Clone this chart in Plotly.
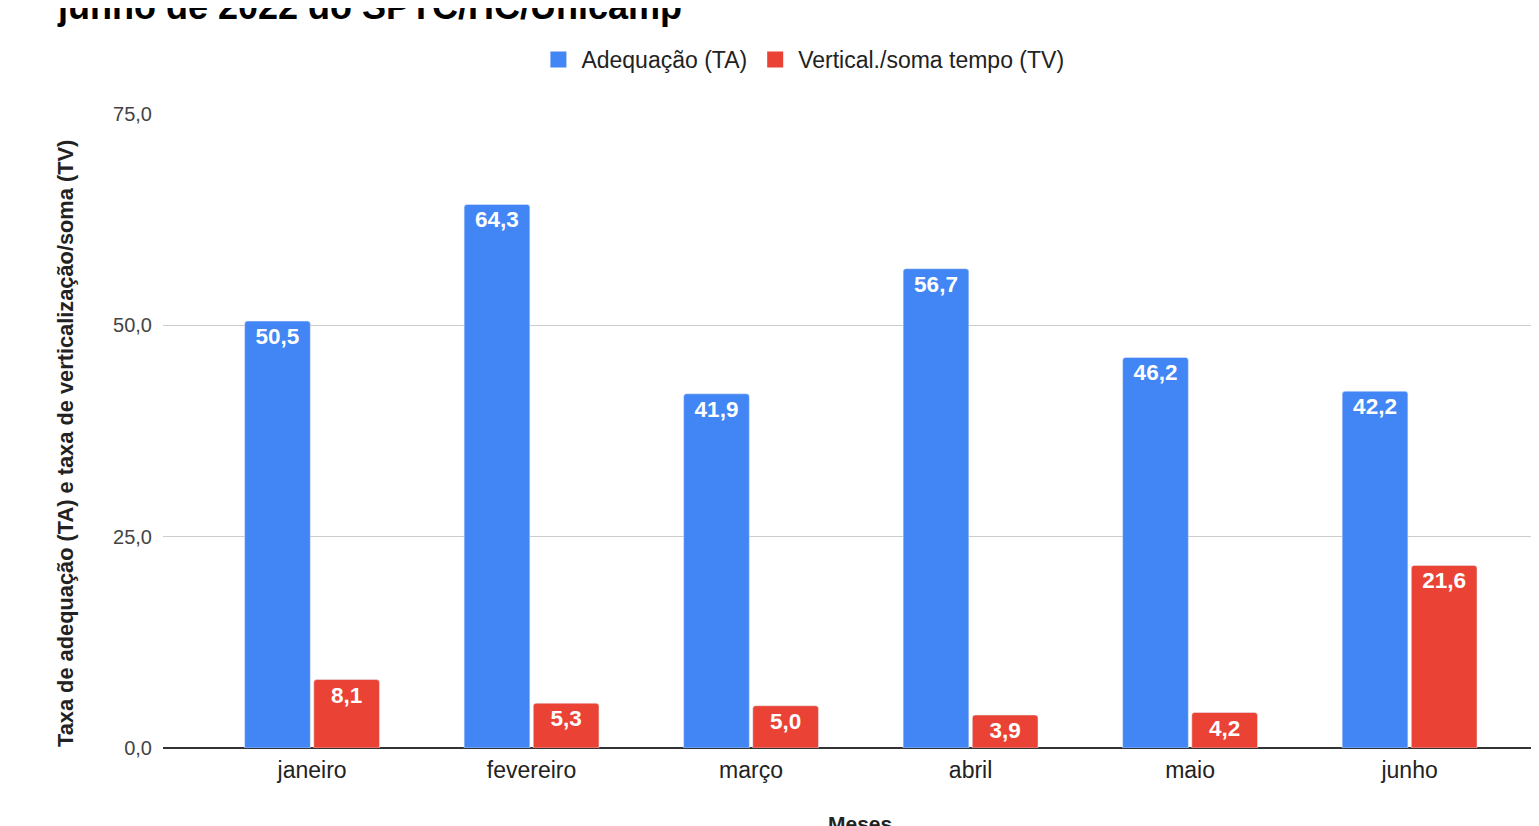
import plotly.graph_objects as go

meses = ["janeiro", "fevereiro", "março", "abril", "maio", "junho"]
adequacao_ta = [50.5, 64.3, 41.9, 56.7, 46.2, 42.2]
vertical_tv = [8.1, 5.3, 5.0, 3.9, 4.2, 21.6]
y_ticks = [0, 25, 50, 75]

BLUE = "#4285F4"
RED = "#EA4335"
FONT = "Liberation Sans"

fig = go.Figure()
for name, vals, col in [("Adequação (TA)", adequacao_ta, BLUE),
                        ("Vertical./soma tempo (TV)", vertical_tv, RED)]:
    fig.add_trace(go.Bar(
        name=name, x=meses, y=vals, marker_color=col, showlegend=False,
        texttemplate="%{y:.1f}", textposition="inside", insidetextanchor="end",
        textfont=dict(family=FONT, size=22.5, color="white", weight="bold"),
        textangle=0, hoverinfo="skip", legendgroup=name,
    ))
# legend entries with large square swatches
for name, col in [("Adequação (TA)", BLUE), ("Vertical./soma tempo (TV)", RED)]:
    fig.add_trace(go.Scatter(
        name=name, x=[None], y=[None], mode="markers", legendgroup=name,
        marker=dict(symbol="square", size=22, color=col), showlegend=True,
    ))

fig.update_layout(
    width=1539, height=826,
    margin=dict(l=155, r=0, t=106, b=86),
    paper_bgcolor="white", plot_bgcolor="white",
    separators=",.",
    barmode="group", bargap=0.37, bargroupgap=0.05,
    barcornerradius=3,
    font=dict(family=FONT, color="#222222"),
    showlegend=True,
    legend=dict(orientation="h", x=0.462, xanchor="center", y=1.086, yanchor="middle",
                font=dict(family=FONT, size=23, color="#222222"),
                itemsizing="trace", traceorder="normal", itemwidth=36),
    xaxis=dict(range=[-0.679, 5.626], showgrid=False, showline=False, ticks="",
               ticklabelstandoff=6,
               tickfont=dict(family=FONT, size=23, color="#222222"), fixedrange=True),
    yaxis=dict(range=[0, 75], tickvals=y_ticks, tickformat=".1f",
               showgrid=True, gridcolor="#cccccc", gridwidth=1,
               zeroline=True, zerolinecolor="#333333", zerolinewidth=1.5,
               showline=False, ticks="", ticklabelstandoff=10,
               tickfont=dict(family=FONT, size=20, color="#444444")),
    annotations=[
        dict(text="junho de 2022 do SPTC/HC/Unicamp", xref="paper", yref="paper",
             x=(55 - 163) / 1384, xanchor="left", y=(748 - 7) / 634, yanchor="middle",
             showarrow=False, font=dict(family=FONT, size=36, color="black", weight="bold")),
        dict(text="Taxa de adequação (TA) e taxa de verticalização/soma (TV)", xref="paper", yref="paper",
             x=(65 - 163) / 1384, xanchor="center", y=(748 - 444) / 634, yanchor="middle",
             textangle=-90, showarrow=False,
             font=dict(family=FONT, size=21.8, color="#222222", weight="bold")),
        dict(text="Meses", xref="paper", yref="paper",
             x=(860 - 163) / 1384, xanchor="center", y=(748 - 823) / 634, yanchor="middle",
             showarrow=False, font=dict(family=FONT, size=21, color="#222222", weight="bold")),
    ],
)

fig.write_html("out.html")
